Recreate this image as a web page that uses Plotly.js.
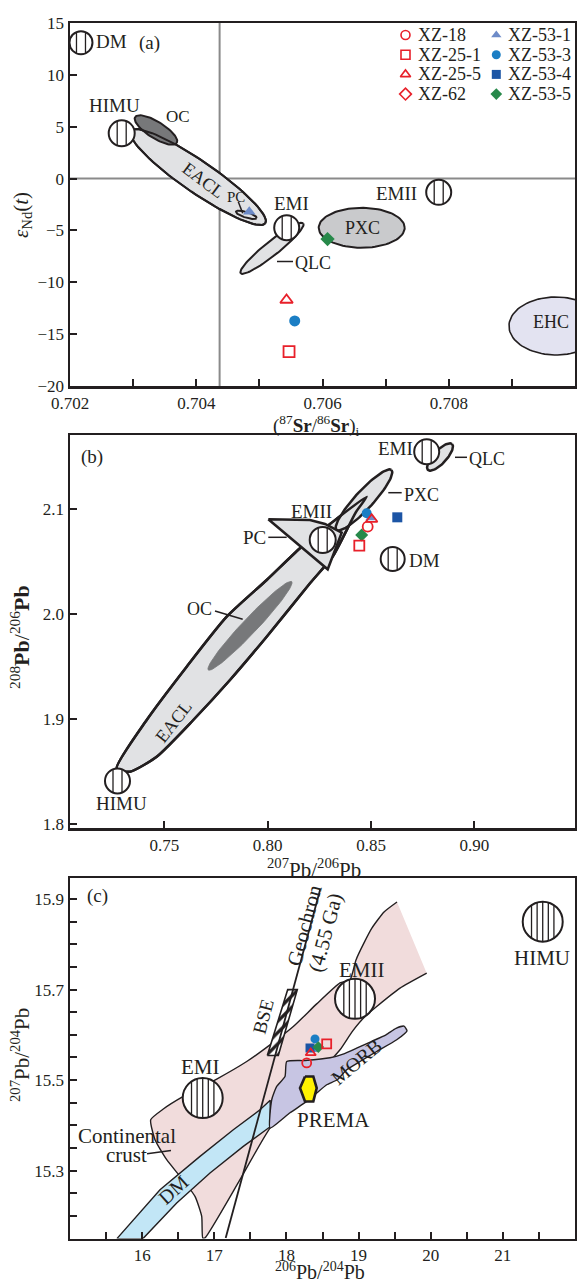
<!DOCTYPE html>
<html><head><meta charset="utf-8">
<script src="https://cdn.plot.ly/plotly-3.0.1.min.js"></script>
<style>html,body{margin:0;padding:0;background:#fff;}#chart{width:577px;height:1284px;}</style>
</head><body><div id="chart"></div>
<script>
// ---------------- data ----------------
const samples = ['XZ-18','XZ-25-1','XZ-25-5','XZ-62','XZ-53-1','XZ-53-3','XZ-53-4','XZ-53-5'];
// panel (a)
const srI = [null, 0.70547, 0.70543, null, 0.70484, 0.70556, null, 0.70608];
const eNd = [null, -16.69, -11.71, null, -3.20, -13.73, null, -5.83];
// panel (b)
const pb76 = [0.84837, 0.84431, 0.85031, null, 0.84997, 0.84789, 0.86270, 0.84547];
const pb86 = [2.0832, 2.0651, 2.0902, null, 2.0917, 2.0959, 2.0921, 2.0753];
// panel (c)
const pb64 = [18.281, 18.558, 18.337, null, 18.382, 18.396, 18.327, 18.442];
const pb74 = [15.538, 15.580, 15.560, null, 15.567, 15.591, 15.571, 15.573];

// tick labels
const srTickVals = [0.702,0.703,0.704,0.705,0.706,0.707,0.708,0.709];
const srTickText = ['0.702','','0.704','','0.706','','0.708',''];
const eNdTickVals = [-20,-15,-10,-5,0,5,10,15];
const eNdTickText = ['\u221220','\u221215','\u221210','\u22125','0','5','10','15'];
const pb76TickVals = [0.75,0.80,0.85,0.90];
const pb76TickText = ['0.75','0.80','0.85','0.90'];
const pb86TickVals = [1.8,1.9,2.0,2.1];
const pb86TickText = ['1.8','1.9','2.0','2.1'];
const pb64TickVals = [15.5,16,16.5,17,17.5,18,18.5,19,19.5,20,20.5,21,21.5];
const pb64TickText = ['','16','','17','','18','','19','','20','','21',''];
const pb74TickVals = [15.2,15.25,15.3,15.35,15.4,15.45,15.5,15.55,15.6,15.65,15.7,15.75,15.8,15.85,15.9];
const pb74TickText = ['','','15.3','','','','15.5','','','','15.7','','','','15.9'];

// reference fields, panel (a): ellipses [centre, end of axis 1, end of axis 2]
const aEACL = [[0.704028,0.152],[0.705094,-4.303],[0.704169,1.414]];
const aOC   = [[0.703362,4.683],[0.703692,3.430],[0.703432,5.358]];
const aPC   = [[0.704793,-3.494],[0.704956,-3.802],[0.704780,-3.754]];
const aQLC  = [[0.705200,-6.723],[0.705696,-4.313],[0.705270,-7.253]];
const aPXC  = [[0.706621,-4.746],[0.707302,-4.746],[0.706621,-2.818]];
const aEHC  = [[0.709699,-14.215],[0.710444,-14.215],[0.709699,-11.419]];
const aCircleNames = ['DM','HIMU','EMI','EMII'];
const aCircleX = [0.702174,0.702819,0.705433,0.707841];
const aCircleY = [13.10,4.365,-4.737,-1.324];
const grayLineSr = 0.70437, grayLineNd = 0;
const aLabels = ['DM','(a)','HIMU','OC','EACL','PC','EMI','QLC','PXC','EMII','EHC'];
const aLabX = [0.702665,0.703267,0.702700,0.703716,0.704107,0.704625,0.705512,0.705850,0.706630,0.707175,0.709615];
const aLabY = [13.17,13.04,7.00,5.966,-0.138,-1.748,-2.384,-8.169,-4.795,-1.420,-13.86];
const aLeaderX = [[0.704666,0.704736],[0.705279,0.705533]];
const aLeaderY = [[-2.230,-3.348],[-7.996,-7.996]];

// panel (b)
const eaclBX = [0.72690,0.74142,0.76078,0.78014,0.79949,0.81561,0.83013,0.84789,0.84271,0.83158,0.82045,0.79949,0.78173,0.76397,0.74626,0.73334];
const eaclBY = [1.85307,1.89907,1.94983,1.99745,2.03240,2.06260,2.08574,2.11174,2.09717,2.05526,2.02926,1.97840,1.93717,1.89907,1.86412,1.84983];
const bOC  = [[0.79141,1.98879],[0.81159,2.03088],[0.79408,1.98393]];
const bPXC = [[0.84658,2.10860],[0.85989,2.13717],[0.84977,2.10279]];
const bQLC = [[0.88337,2.14955],[0.88918,2.16193],[0.88569,2.14536]];
const pcBX = [0.80027,0.82045,0.82771,0.83579,0.82902];
const pcBY = [2.09021,2.08955,2.08574,2.07745,2.04260];
const bCircleNames = ['HIMU','EMI','EMII','DM'];
const bCircleX = [0.72729,0.87693,0.82660,0.86047];
const bCircleY = [1.84098,2.15460,2.07050,2.05240];
const bLabels = ['(b)','EMI','QLC','PXC','EMII','PC','DM','OC','EACL','HIMU'];
const bLabX = [0.71495,0.86200,0.90611,0.87451,0.82127,0.79383,0.87610,0.76721,0.75429,0.72898];
const bLabY = [2.14926,2.15783,2.14736,2.11336,2.09745,2.07307,2.05145,2.00479,1.89745,1.81974];
const bLeaderX = [[0.89062,0.89643],[0.85834,0.86482],[0.80027,0.80917],[0.77447,0.78788]];
const bLeaderY = [[2.14926,2.14926],[2.11555,2.11555],[2.07307,2.07307],[2.00288,1.99498]];

// panel (c)
const crustX = [19.9446,19.5744,19.2514,19.0892,18.9090,18.7427,17.7724,17.3565,16.8714,16.8395,16.8256,16.7328,16.5248,16.3404,16.1783,16.1187,16.2933,16.5706,17.0336,17.4494,17.7724,18.0954,18.4198,18.7427,18.8813,18.9645,19.0754,19.1863,19.3526,19.5328];
const crustY = [15.7363,15.7032,15.6626,15.6405,15.6067,15.5670,15.3941,15.2800,15.1513,15.1513,15.1990,15.2431,15.2873,15.3241,15.3683,15.4124,15.4361,15.4639,15.5023,15.5411,15.5780,15.6184,15.6685,15.7149,15.7215,15.7657,15.8032,15.8363,15.8716,15.8937];
const dmX = [15.6501,16.2476,16.8020,17.2637,17.6338,17.7752,17.7752,17.4023,16.9407,16.4791,16.0119];
const dmY = [15.1498,15.2579,15.3314,15.3904,15.4345,15.4555,15.3970,15.3535,15.2948,15.2286,15.1498];
const morbX = [18.0039,18.2576,18.6041,18.7954,18.9729,19.1766,19.3804,19.5190,19.6299,19.6715,19.5287,19.2514,19.0200,18.8356,18.7053,18.5584,18.4198,18.2811,18.0496,17.7724,17.7960,17.8653,17.9804];
const morbY = [15.5411,15.5433,15.5493,15.5581,15.5707,15.5853,15.6001,15.6144,15.6193,15.6089,15.5891,15.5632,15.5411,15.5228,15.5007,15.4897,15.4714,15.4529,15.4279,15.3941,15.4566,15.4860,15.5080];
const bseX = [17.7350,17.8875,18.1509,18.0178];
const bseY = [15.5544,15.5544,15.7000,15.7000];
const premaX = [18.2576,18.3726,18.4198,18.3726,18.2576,18.1883];
const premaY = [15.5080,15.5080,15.4824,15.4529,15.4529,15.4824];
const geoX = [17.158,18.466];
const geoY = [15.151,15.920];
const cCircleNames = ['EMI','EMII','HIMU'];
const cCircleX = [16.8395,18.9506,21.5526];
const cCircleY = [15.4604,15.6796,15.8502];
const cLabels = ['(c)','Geochron','(4.55 Ga)','BSE','EMII','HIMU','EMI','Continental','crust','DM','MORB','PREMA'];
const cLabX = [15.3784,18.2450,18.5348,17.6795,19.0436,21.5387,16.8020,15.7832,15.7874,16.4250,18.9645,18.6457];
const cLabY = [15.9069,15.8414,15.8259,15.6405,15.7436,15.7694,15.5301,15.3771,15.3352,15.2579,15.5405,15.4124];
const cLeaderX = [[16.0674,16.4001]];
const cLeaderY = [[15.3374,15.3447]];

// ---------------- styles ----------------
const W = 577, H = 1284;
const FONT = '"Liberation Serif", "Times New Roman", serif';
const INK = '#231f20';
const RED = '#e8202a';
const sampleSymbols = ['circle-open','square-open','triangle-up-open','diamond-open','triangle-up','circle','square','diamond'];
const sampleColors = [RED,RED,RED,RED,'#6d8bc8','#1b7ec4','#1c55a5','#27894a'];
const drawOrder = [4,5,6,7,0,1,2,3];
const LIGHT = '#e1e2e4', DARK = '#77787a', MID = '#c9cacc', LAV = '#e3e3f1';
const PINK = '#f1dcdc', MORBC = '#c7c5e3', DMBLUE = '#c2e6f6', YEL = '#fff200';

function ellipse(e, n) {
  n = n || 90;
  const c = e[0], a = e[1], b = e[2], xs = [], ys = [];
  for (let i = 0; i <= n; i++) {
    const t = 2 * Math.PI * i / n;
    xs.push(c[0] + (a[0]-c[0])*Math.cos(t) + (b[0]-c[0])*Math.sin(t));
    ys.push(c[1] + (a[1]-c[1])*Math.cos(t) + (b[1]-c[1])*Math.sin(t));
  }
  return [xs, ys];
}
function closed(arr) { return arr.concat([arr[0]]); }
function region(xs, ys, ax, fill, lw, lcolor, shape, smooth) {
  return {type:'scatter', mode:'lines', x:xs, y:ys, xaxis:'x'+ax, yaxis:'y'+ax, fill: fill ? 'toself' : 'none',
    fillcolor: fill || 'rgba(0,0,0,0)', line:{color:lcolor||INK, width:lw, shape:shape||'linear', smoothing:smooth||1},
    hoverinfo:'skip', showlegend:false};
}
function ellRegion(e, ax, fill, lw, lcolor) { const p = ellipse(e); return region(p[0], p[1], ax, fill, lw, lcolor); }

const traces = [];
// ---- panel (a) fields
traces.push(ellRegion(aEACL, '', LIGHT, 2));
traces.push(ellRegion(aOC, '', DARK, 2));
traces.push(ellRegion(aEACL, '', null, 2));
traces.push(ellRegion(aPC, '', LIGHT, 2));
traces.push(ellRegion(aQLC, '', LIGHT, 2));
traces.push(ellRegion(aPXC, '', MID, 2));
traces.push(ellRegion(aEHC, '', LAV, 1.6));
// ---- panel (b) fields
traces.push(region(closed(eaclBX), closed(eaclBY), '2', LIGHT, 2.5, INK, 'spline', 0.6));
traces.push(ellRegion(bOC, '2', DARK, 0.8, DARK));
traces.push(ellRegion(bPXC, '2', LIGHT, 2.5));
traces.push(region(closed(eaclBX), closed(eaclBY), '2', null, 2.5, INK, 'spline', 0.6));
traces.push(region(closed(pcBX), closed(pcBY), '2', LIGHT, 2.5));
traces.push(ellRegion(bQLC, '2', LIGHT, 2.5));
// ---- panel (c) fields
traces.push(region(crustX, crustY, '3', PINK, 1.4, INK, 'spline', 0.5));
traces.push(region(closed(dmX), closed(dmY), '3', DMBLUE, 1.4));
traces.push(region(closed(morbX), closed(morbY), '3', MORBC, 1.4, INK, 'spline', 0.5));
const bse = region(closed(bseX), closed(bseY), '3', 'white', 1.6);
bse.fillpattern = {shape:'/', bgcolor:'white', fgcolor:INK, size:8, solidity:0.4};
traces.push(bse);
traces.push(region(geoX, geoY, '3', null, 1.8));
traces.push(region(closed(premaX), closed(premaY), '3', YEL, 2.6));

// ---- samples
function sampleTraces(xs, ys, ax, size) {
  return drawOrder.map(i => {
    const open = sampleSymbols[i].indexOf('open') >= 0;
    return {type:'scatter', mode:'markers', x:[xs[i]], y:[ys[i]], xaxis:'x'+ax, yaxis:'y'+ax, name:samples[i],
      showlegend:false, hoverinfo:'skip',
      marker:{symbol:sampleSymbols[i], size:size, color:sampleColors[i], line:{color:sampleColors[i], width: open ? 1.8 : 0}}};
  });
}
traces.push(...sampleTraces(srI, eNd, '', 11));
traces.push(...sampleTraces(pb76, pb86, '2', 10));
traces.push(...sampleTraces(pb64, pb74, '3', 9));

// ---- custom legend (panel a, top right) on a page-pixel overlay axis
const legColX = [405.5, 496.3], legRowY = 35, legRowStep = 19.7;
const legendAnn = [];
samples.forEach((s, i) => {
  const col = i < 4 ? 0 : 1, row = i % 4;
  const open = sampleSymbols[i].indexOf('open') >= 0;
  traces.push({type:'scatter', mode:'markers', x:[legColX[col]], y:[legRowY + row*legRowStep], xaxis:'x4', yaxis:'y4',
    showlegend:false, hoverinfo:'skip',
    marker:{symbol:sampleSymbols[i], size:9, color:sampleColors[i], line:{color:sampleColors[i], width: open ? 1.6 : 0}}});
  legendAnn.push({xref:'x4', yref:'y4', x:legColX[col] + 10, y:legRowY + row*legRowStep, text:s, showarrow:false,
    xanchor:'left', yanchor:'middle', font:{family:FONT, size:18, color:INK}});
});

// ---- circles with vertical stripes (shapes sized in pixels, anchored at data values)
const shapes = [];
function circles(xs, ys, ax, radii, offsets) {
  xs.forEach((cx, i) => {
    const r = radii[i], cy = ys[i];
    const base = {xref:'x'+ax, yref:'y'+ax, xsizemode:'pixel', ysizemode:'pixel', xanchor:cx, yanchor:cy, layer:'above'};
    shapes.push(Object.assign({type:'circle', x0:-r, x1:r, y0:-r, y1:r, fillcolor:'white', line:{color:INK, width:2}}, base));
    offsets.forEach(dx => {
      const h = Math.sqrt(r*r - dx*dx);
      shapes.push(Object.assign({type:'line', x0:dx, x1:dx, y0:-h, y1:h, line:{color:INK, width:1.3}}, base));
    });
  });
}
circles(aCircleX, aCircleY, '', [11.5,13,12.5,12.5], [-4.5,4.5]);
circles(bCircleX, bCircleY, '2', [12.5,12.5,13,12], [-4.5,4.5]);
circles(cCircleX, cCircleY, '3', [20,20,20], [-11.2,-5.6,0,5.6,11.2]);

// gray reference lines (a)
shapes.push({type:'line', xref:'x', yref:'y domain', x0:grayLineSr, x1:grayLineSr, y0:0, y1:1, line:{color:'#8a8a8a', width:2}, layer:'below'});
shapes.push({type:'line', xref:'x domain', yref:'y', x0:0, x1:1, y0:grayLineNd, y1:grayLineNd, line:{color:'#8a8a8a', width:2}, layer:'below'});
// leader lines
function leaders(LX, LY, ax) {
  LX.forEach((lx, i) => shapes.push({type:'line', xref:'x'+ax, yref:'y'+ax, x0:lx[0], x1:lx[1], y0:LY[i][0], y1:LY[i][1], line:{color:INK, width:1.5}, layer:'above'}));
}
leaders(aLeaderX, aLeaderY, '');
leaders(bLeaderX, bLeaderY, '2');
leaders(cLeaderX, cLeaderY, '3');

// ---- labels
const ann = [];
function labels(L, X, Y, ax, sizes, angles) {
  L.forEach((t, i) => ann.push({xref:'x'+ax, yref:'y'+ax, x:X[i], y:Y[i], text:t, showarrow:false, textangle:angles[i],
    font:{family:FONT, size:sizes[i], color:INK}, xanchor:'center', yanchor:'middle'}));
}
labels(aLabels, aLabX, aLabY, '', [19,19,19,17,18,15,19,18,18,19,18], [0,0,0,0,37,0,0,0,0,0,0]);
labels(bLabels, bLabX, bLabY, '2', [19,19,18,18,19,19,19,18,18,19], [0,0,0,0,0,0,0,0,-52,0]);
labels(cLabels, cLabX, cLabY, '3', [19,21,21,19,21,21,21,21,21,20,20,21], [0,-75,-75,-75,0,0,0,0,0,-42,-40,0]);

// axis titles  [px x, px y, text, size, angle, yanchor]
function pt(px, py) { return {x: px / W, y: 1 - py / H}; }
const titles = [
  [316, 425, '(<sup>87</sup><b>Sr</b>/<sup>86</sup><b>Sr</b>)<sub>i</sub>', 19, 0, 'middle'],
  [22, 215, '<i>\u03b5</i><sub>Nd</sub>(<i>t</i>)', 21, -90, 'middle'],
  [314, 868, '<sup>207</sup>Pb/<sup>206</sup>Pb', 21, 0, 'middle'],
  [20, 637, '<sup>208</sup><b>Pb</b>/<sup>206</sup><b>Pb</b>', 22, -90, 'middle'],
  [320, 1284, '<sup>206</sup>Pb/<sup>204</sup>Pb', 20, 0, 'bottom'],
  [20, 1055, '<sup>207</sup>Pb/<sup>204</sup>Pb', 21, -90, 'middle']
];
titles.forEach(t => { const p = pt(t[0], t[1]); ann.push({xref:'paper', yref:'paper', x:p.x, y:p.y, text:t[2], showarrow:false,
  textangle:t[4], font:{family:FONT, size:t[3], color:INK}, xanchor:'center', yanchor:t[5], borderpad:0}); });

// ---- axes
const xDom = [70/W, 575/W];
function axisBase(extra) {
  return Object.assign({showline:true, linecolor:INK, linewidth:2.5, mirror:true, ticks:'inside', ticklen:7, tickwidth:2,
    tickcolor:INK, showgrid:false, zeroline:false, fixedrange:true, tickmode:'array',
    tickfont:{family:FONT, size:17, color:INK}}, extra);
}
const layout = {
  width:W, height:H, margin:{l:0,r:0,t:0,b:0}, paper_bgcolor:'white', plot_bgcolor:'rgba(0,0,0,0)',
  showlegend:false, font:{family:FONT, color:INK},
  xaxis: axisBase({domain:xDom, anchor:'y', range:[0.702,0.710], tickvals:srTickVals, ticktext:srTickText}),
  yaxis: axisBase({domain:[1-386/H, 1-23/H], anchor:'x', range:[-20,15], tickvals:eNdTickVals, ticktext:eNdTickText}),
  xaxis2: axisBase({domain:xDom, anchor:'y2', range:[0.7043,0.9487], tickvals:pb76TickVals, ticktext:pb76TickText}),
  yaxis2: axisBase({domain:[1-828/H, 1-435/H], anchor:'x2', range:[1.7962,2.1705], tickvals:pb86TickVals, ticktext:pb86TickText}),
  xaxis3: axisBase({domain:xDom, anchor:'y3', range:[15,22], tickvals:pb64TickVals, ticktext:pb64TickText}),
  yaxis3: axisBase({domain:[1-1238.5/H, 1-878.3/H], anchor:'x3', range:[15.15,15.946], tickvals:pb74TickVals, ticktext:pb74TickText}),
  xaxis4: {domain:[0,1], range:[0,W], visible:false, anchor:'y4', fixedrange:true},
  yaxis4: {domain:[0,1], range:[H,0], visible:false, anchor:'x4', fixedrange:true},
  shapes: shapes,
  annotations: ann.concat(legendAnn)
};
Plotly.newPlot('chart', traces, layout, {staticPlot:true, displayModeBar:false});
</script>
</body></html>
